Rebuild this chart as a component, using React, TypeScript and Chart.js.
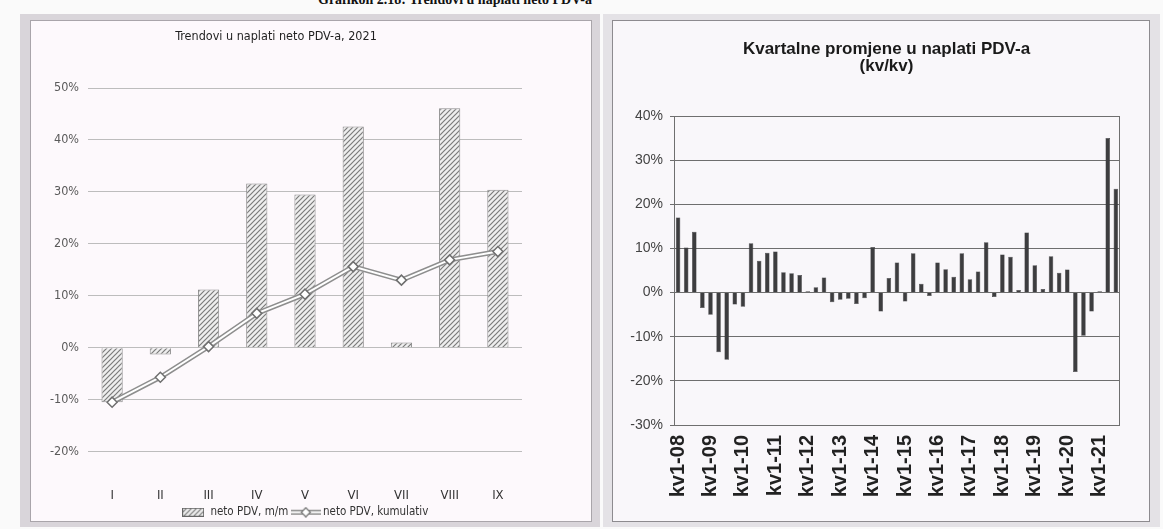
import React, { useEffect, useRef } from "react";
import { Chart, registerables } from "chart.js";

Chart.register(...registerables);

// ---------- Left chart data ----------
const months = ["I", "II", "III", "IV", "V", "VI", "VII", "VIII", "IX"];
const monthlyChange = [-10.5, -1.3, 11.2, 31.6, 29.5, 42.6, 1.0, 46.1, 30.4];
const cumulativeChange = [-10.5, -5.7, 0.2, 6.6, 10.3, 15.6, 13.0, 16.9, 18.5];
const leftTitle = "Trendovi u naplati neto PDV-a, 2021";
const leftSeriesNames = ["neto PDV, m/m", "neto PDV, kumulativ"];

// ---------- Right chart data ----------
const years = ["08", "09", "10", "11", "12", "13", "14", "15", "16", "17", "18", "19", "20", "21"];
const quarterNames = ["kv1", "kv2", "kv3", "kv4"];
const quarters = years.flatMap((y) => quarterNames.map((q) => `${q}-${y}`)).slice(0, 55);
const quarterlyChange = [
  17.0, 10.2, 13.8, -3.5, -5.0, -13.5, -15.2, -2.7,
  -3.2, 11.2, 7.2, 9.0, 9.3, 4.6, 4.4, 4.0,
  0.3, 1.2, 3.4, -2.2, -1.6, -1.4, -2.6, -1.3,
  10.3, -4.3, 3.3, 6.8, -2.0, 8.9, 2.0, -0.8,
  6.8, 5.3, 3.6, 8.9, 3.0, 4.8, 11.4, -1.0,
  8.6, 8.1, 0.6, 13.6, 6.2, 0.8, 8.2, 4.5,
  5.2, -18.0, -9.8, -4.3, 0.3, 35.0, 23.5,
];
const rightTitle = ["Kvartalne promjene u naplati PDV-a", "(kv/kv)"];

const NARROW = "'Liberation Sans Narrow', 'DejaVu Sans Condensed', 'Noto Sans', sans-serif";
const ARIAL = "'Liberation Sans', Arial, sans-serif";

function makeHatchPattern(ctx: CanvasRenderingContext2D) {
  const c = document.createElement("canvas");
  c.width = 5;
  c.height = 5;
  const g = c.getContext("2d")!;
  g.fillStyle = "#eeeeee";
  g.fillRect(0, 0, 5, 5);
  g.strokeStyle = "#7a7a7a";
  g.lineWidth = 1.2;
  g.beginPath();
  g.moveTo(0, 5); g.lineTo(5, 0);
  g.moveTo(-2.5, 2.5); g.lineTo(2.5, -2.5);
  g.moveTo(2.5, 7.5); g.lineTo(7.5, 2.5);
  g.stroke();
  return ctx.createPattern(c, "repeat")!;
}

function makeHatchIcon() {
  const c = document.createElement("canvas");
  c.width = 22;
  c.height = 9;
  const g = c.getContext("2d")!;
  g.fillStyle = makeHatchPattern(g);
  g.fillRect(0, 0, 22, 9);
  g.strokeStyle = "#666";
  g.lineWidth = 1;
  g.strokeRect(0.5, 0.5, 21, 8);
  return c;
}

function makeLineIcon() {
  const c = document.createElement("canvas");
  c.width = 30;
  c.height = 11;
  const g = c.getContext("2d")!;
  g.strokeStyle = "#8a8a8a";
  g.lineWidth = 5;
  g.beginPath(); g.moveTo(0, 5.5); g.lineTo(30, 5.5); g.stroke();
  g.strokeStyle = "#ffffff";
  g.lineWidth = 2;
  g.beginPath(); g.moveTo(0, 5.5); g.lineTo(30, 5.5); g.stroke();
  g.fillStyle = "#fff";
  g.strokeStyle = "#777";
  g.lineWidth = 1.3;
  g.beginPath();
  g.moveTo(15, 1); g.lineTo(19.5, 5.5); g.lineTo(15, 10); g.lineTo(10.5, 5.5); g.closePath();
  g.fill(); g.stroke();
  return c;
}

const plotFrame = {
  id: "plotFrame",
  afterDraw(chart: any) {
    const { ctx, chartArea } = chart;
    ctx.save();
    ctx.strokeStyle = "#6f6f6f";
    ctx.lineWidth = 1;
    ctx.strokeRect(
      Math.round(chartArea.left) + 0.5,
      Math.round(chartArea.top) + 0.5,
      Math.round(chartArea.right - chartArea.left) - 1,
      Math.round(chartArea.bottom - chartArea.top)
    );
    ctx.restore();
  },
};

// shifts the title block so it is centred like in the reference (over plot + label column)
const titleShift = {
  id: "titleShift",
  afterLayout(chart: any, _args: any, opts: any) {
    if (chart.titleBlock) chart.titleBlock.left += opts.dx || 0;
  },
};

function LeftChart() {
  const ref = useRef<HTMLCanvasElement>(null);
  useEffect(() => {
    const canvas = ref.current!;
    const ctx = canvas.getContext("2d")!;
    const hatch = makeHatchPattern(ctx);
    const hatchIcon = makeHatchIcon();
    const lineIcon = makeLineIcon();
    const chart = new Chart(ctx, {
      type: "bar",
      data: {
        labels: months,
        datasets: [
          {
            type: "bar",
            label: leftSeriesNames[0],
            data: monthlyChange,
            backgroundColor: hatch,
            borderColor: "#8c8c8c",
            borderWidth: 1,
            barPercentage: 0.44,
            categoryPercentage: 1,
            order: 3,
          },
          {
            type: "line",
            label: leftSeriesNames[1] + " (outline)",
            data: cumulativeChange,
            borderColor: "#8e8e8e",
            borderWidth: 5,
            pointRadius: 0,
            tension: 0,
            order: 2,
          },
          {
            type: "line",
            label: leftSeriesNames[1],
            data: cumulativeChange,
            borderColor: "#ffffff",
            borderWidth: 2,
            pointStyle: "rectRot",
            pointRadius: 5,
            pointBackgroundColor: "#ffffff",
            pointBorderColor: "#6f6f6f",
            pointBorderWidth: 1.5,
            tension: 0,
            order: 1,
          },
        ] as any,
      },
      options: {
        animation: false,
        responsive: false,
        maintainAspectRatio: false,
        devicePixelRatio: 1,
        layout: { padding: { left: 0, right: 70, top: 0, bottom: 0 } },
        plugins: {
          title: {
            display: true,
            text: leftTitle,
            color: "#1f1f1f",
            font: { family: NARROW, size: 12.5, weight: "normal" as any, lineHeight: 1.2 },
            padding: { top: 9, bottom: 44 },
          },
          legend: {
            display: true,
            position: "bottom",
            fullSize: false,
            labels: {
              usePointStyle: true,
              pointStyleWidth: 23,
              boxHeight: 10,
              padding: 6,
              color: "#333",
              font: { family: NARROW, size: 11.5 },
              filter: (item: any) => item.datasetIndex !== 1,
              sort: (a: any, b: any) => a.datasetIndex - b.datasetIndex,
              generateLabels: (ch: any) => {
                const base = (Chart.defaults.plugins.legend.labels as any).generateLabels(ch);
                return base.map((it: any) => ({
                  ...it,
                  pointStyle: it.datasetIndex === 0 ? hatchIcon : lineIcon,
                }));
              },
            },
          },
          tooltip: { enabled: false },
        },
        scales: {
          x: {
            grid: { display: false, drawTicks: false },
            border: { display: false },
            ticks: { color: "#333", padding: 36, font: { family: NARROW, size: 13 } },
            afterFit: (s: any) => { s.height = 49; },
          },
          y: {
            min: -20,
            max: 50,
            grid: { color: "#bdbdbd", drawTicks: false, lineWidth: 1 },
            border: { display: false },
            ticks: {
              stepSize: 10,
              padding: 9,
              color: "#5a5a5a",
              font: { family: NARROW, size: 12.5 },
              callback: (v: any) => `${v}%`,
            },
            afterFit: (s: any) => { s.width = 58; },
          },
        },
      },
    });
    return () => chart.destroy();
  }, []);
  return (
    <canvas
      ref={ref}
      width={562}
      height={508}
      style={{ position: "absolute", left: 30, top: 20, width: 562, height: 508 }}
    />
  );
}

function RightChart() {
  const ref = useRef<HTMLCanvasElement>(null);
  useEffect(() => {
    const canvas = ref.current!;
    const chart = new Chart(canvas, {
      type: "bar",
      data: {
        labels: quarters,
        datasets: [
          {
            label: "kv/kv",
            data: quarterlyChange,
            backgroundColor: "#3d3d3f",
            borderColor: "#2f2f30",
            borderWidth: 0.5,
            barPercentage: 0.56,
            categoryPercentage: 1,
          },
        ],
      },
      options: {
        animation: false,
        responsive: false,
        maintainAspectRatio: false,
        devicePixelRatio: 1,
        layout: { padding: { left: 0, right: 13, top: 0, bottom: 0 } },
        plugins: {
          title: {
            display: true,
            text: rightTitle,
            color: "#1a1a1a",
            font: { family: ARIAL, size: 17, weight: "bold", lineHeight: 1.0 },
            padding: { top: 21, bottom: 41 },
          },
          legend: { display: false },
          tooltip: { enabled: false },
          titleShift: { dx: 24 },
        } as any,
        scales: {
          x: {
            grid: { display: false, drawTicks: false },
            border: { display: false },
            ticks: {
              autoSkip: false,
              minRotation: 90,
              maxRotation: 90,
              padding: 10,
              color: "#222",
              font: { family: ARIAL, size: 20, weight: "bold" },
              callback: (_v: any, i: number) => (i % 4 === 0 ? quarters[i] : ""),
            },
            afterFit: (s: any) => { s.height = 97; },
          },
          y: {
            min: -30,
            max: 40,
            grid: { color: "#6e6e6e", lineWidth: 1, drawTicks: true, tickLength: 4 },
            border: { display: true, color: "#6e6e6e" },
            ticks: {
              stepSize: 10,
              padding: 7,
              color: "#444",
              font: { family: ARIAL, size: 14 },
              callback: (v: any) => `${v}%`,
            },
            afterFit: (s: any) => { s.width = 62; },
          },
        },
      },
      plugins: [plotFrame, titleShift],
    });
    return () => chart.destroy();
  }, []);
  return (
    <canvas
      ref={ref}
      width={538}
      height={502}
      style={{ position: "absolute", left: 612, top: 20, width: 538, height: 502 }}
    />
  );
}

export default function App() {
  return (
    <div
      style={{
        position: "absolute",
        left: 0,
        top: 0,
        width: 1163,
        height: 529,
        overflow: "hidden",
        background: "#fafafa",
      }}
    >
      <div
        style={{
          position: "absolute",
          left: 318,
          top: -7,
          fontFamily: "'Liberation Serif', 'DejaVu Serif', serif",
          fontWeight: "bold",
          fontSize: 14,
          lineHeight: "14px",
          whiteSpace: "nowrap",
          color: "#111",
        }}
      >
        Grafikon 2.18: Trendovi u naplati neto PDV-a
      </div>
      <div style={{ position: "absolute", left: 20, top: 14, width: 580, height: 513, background: "#d9d5da" }} />
      <div
        style={{
          position: "absolute",
          left: 30,
          top: 20,
          width: 562,
          height: 502,
          background: "#fdf9fc",
          border: "1px solid #a9a5aa",
          boxSizing: "border-box",
        }}
      />
      <div style={{ position: "absolute", left: 603, top: 14, width: 557, height: 513, background: "#e4e2e6" }} />
      <div
        style={{
          position: "absolute",
          left: 612,
          top: 20,
          width: 538,
          height: 502,
          background: "#f9f7fa",
          border: "1px solid #8d8b8f",
          boxSizing: "border-box",
        }}
      />
      <LeftChart />
      <RightChart />
    </div>
  );
}
